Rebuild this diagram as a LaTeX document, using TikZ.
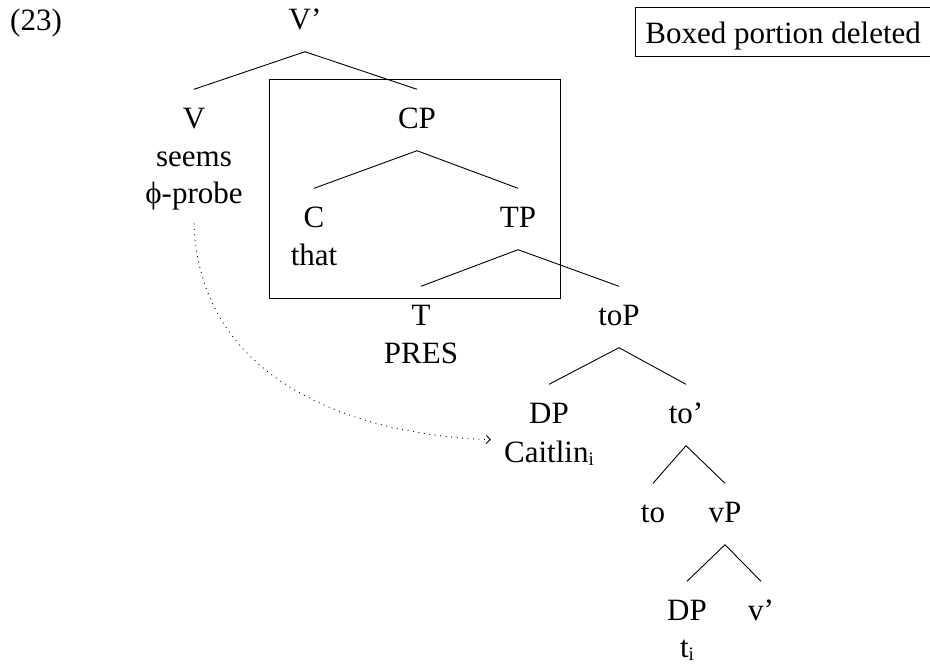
\documentclass[tikz,border=0pt]{standalone}
\usepackage{fontspec}
\setmainfont{Liberation Serif}
\usetikzlibrary{calc,arrows.meta}
\newcommand{\lowsub}[1]{\raisebox{-3.5pt}{\fontsize{19}{19}\selectfont #1}}
\begin{document}
\begin{tikzpicture}[x=1pt,y=1pt,
  every node/.style={font=\fontsize{31}{37.5}\selectfont},
  tn/.style={anchor=base,inner sep=0pt,text height=38.5pt,text depth=22.5pt},
  pl/.style={anchor=base,inner sep=0pt,text height=0.7em,text depth=0.22em},
  branch/.style={line width=0.9pt},
  probeline/.style={line width=0.9pt,dash pattern=on 0.9pt off 4.6pt,-{Straight Barb[length=4pt,width=8pt]}}]
\useasboundingbox (0,0) rectangle (930,-664);
% labels
\node[anchor=base west,inner sep=0pt] (num) at (10,-30) {(23)};
\node[draw,line width=0.9pt,anchor=base west,inner xsep=10pt,inner ysep=6pt,text height=30pt,text depth=7pt] (legend) at (635,-43) {Boxed portion deleted};
% deleted box
\draw[line width=1pt] (269,-79) rectangle (560,-298);
% tree nodes
\node[tn] (Vbar) at (305,-29) {V’};
\node[tn] (V) at (194,-128) {V};
\node[pl] (seems) at (194,-166) {seems};
\node[pl] (probe) at (194,-203) {ϕ-probe};
\node[tn] (CP) at (417,-128) {CP};
\node[tn] (C) at (314,-227) {C};
\node[pl] (that) at (314,-265) {that};
\node[tn] (TP) at (518,-227) {TP};
\node[tn] (T) at (421,-325) {T};
\node[pl] (pres) at (421,-363) {PRES};
\node[tn] (toP) at (619,-325) {toP};
\node[tn] (DPa) at (549,-423) {DP};
\node[pl] (cait) at (549,-462) {Caitlin\lowsub{i}};
\node[tn] (tobar) at (686,-423) {to’};
\node[tn] (to) at (653,-522) {to};
\node[tn] (vP) at (725,-522) {vP};
\node[tn] (DPb) at (687,-620) {DP};
\node[pl] (ti) at (687,-657) {t\lowsub{i}};
\node[tn] (vbar) at (761,-620) {v’};
% branches
\draw[branch] (V.north) -- (Vbar.south) -- (CP.north);
\draw[branch] (C.north) -- (CP.south) -- (TP.north);
\draw[branch] (T.north) -- (TP.south) -- (toP.north);
\draw[branch] (DPa.north) -- (toP.south) -- (tobar.north);
\draw[branch] (to.north) -- (tobar.south) -- (vP.north);
\draw[branch] (DPb.north) -- (vP.south) -- (vbar.north);
% probe arrow
\draw[probeline] ($(probe.south)+(0,-18)$) .. controls +(6,-172) and +(-110,3) .. ($(cait.west)+(-13,20)$);
\end{tikzpicture}
\end{document}
